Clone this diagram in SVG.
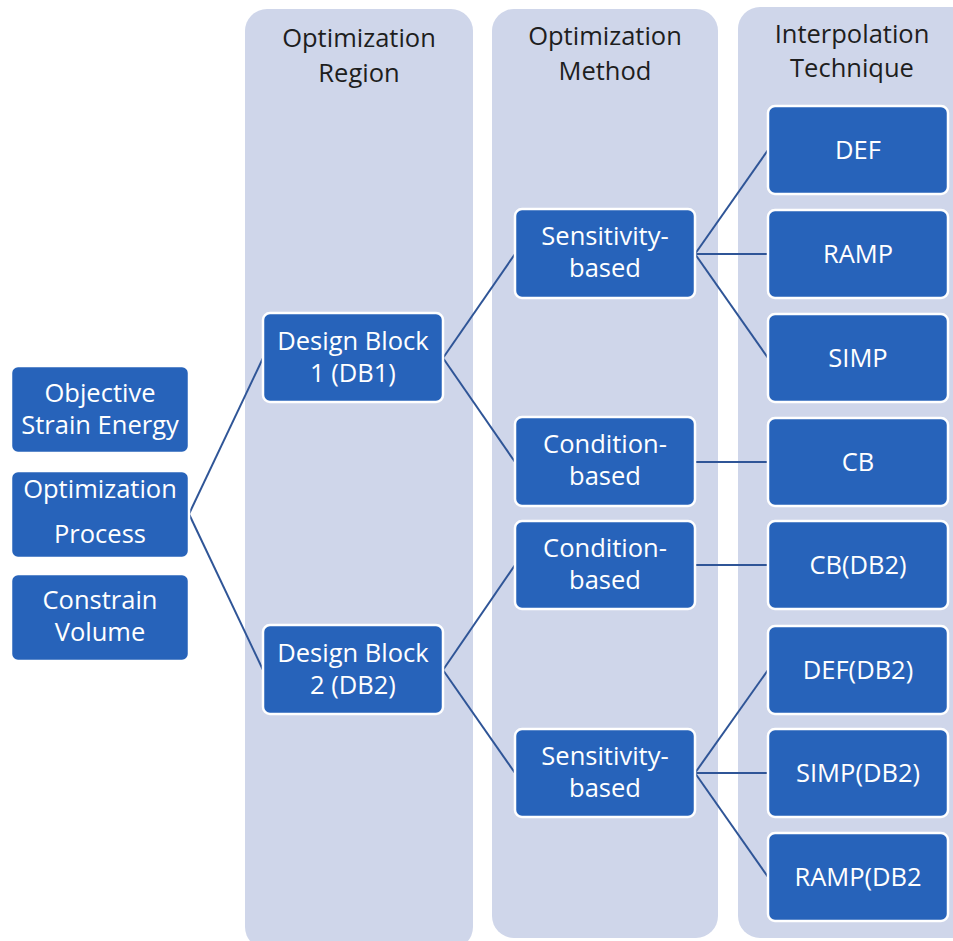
<svg xmlns="http://www.w3.org/2000/svg" width="953" height="941" viewBox="0 0 953 941">
<style>
.col{fill:#cfd6ea}
.node rect{fill:#2763ba;stroke:#ffffff;stroke-width:2.5}
.node text{fill:#ffffff;font-family:"Open Sans","Noto Sans",sans-serif;font-size:25.5px;text-anchor:middle}
.hdr{fill:#1e1e1e;font-family:"Open Sans","Noto Sans",sans-serif;font-size:25.5px;text-anchor:middle}
#connectors line{stroke:#2f5597;stroke-width:2}
</style>
<rect width="953" height="941" fill="#ffffff"/>
<g id="columns">
<rect class="col" x="245" y="9" width="228" height="940" rx="22"/>
<rect class="col" x="492" y="9" width="226" height="929" rx="22"/>
<rect class="col" x="738" y="7" width="240" height="931" rx="22"/>
<text class="hdr" x="359" y="47">Optimization</text>
<text class="hdr" x="359" y="82">Region</text>
<text class="hdr" x="605" y="45">Optimization</text>
<text class="hdr" x="605" y="80">Method</text>
<text class="hdr" x="852" y="43">Interpolation</text>
<text class="hdr" x="852" y="77">Technique</text>
</g>
<g id="connectors">
<line x1="189" y1="514" x2="263" y2="358"/>
<line x1="189" y1="514" x2="263" y2="670"/>
<line x1="443" y1="358" x2="515" y2="254"/>
<line x1="443" y1="358" x2="515" y2="462"/>
<line x1="443" y1="670" x2="515" y2="565"/>
<line x1="443" y1="670" x2="515" y2="773"/>
<line x1="695" y1="254" x2="768" y2="150"/>
<line x1="695" y1="254" x2="768" y2="254"/>
<line x1="695" y1="254" x2="768" y2="358"/>
<line x1="695" y1="462" x2="768" y2="462"/>
<line x1="695" y1="565" x2="768" y2="565"/>
<line x1="695" y1="773" x2="768" y2="670"/>
<line x1="695" y1="773" x2="768" y2="773"/>
<line x1="695" y1="773" x2="768" y2="877"/>
</g>
<g id="objective" class="node"><rect x="11" y="366" width="178" height="87" rx="7"/><text x="100" y="402">Objective</text><text x="100" y="434">Strain Energy</text></g>
<g id="process" class="node"><rect x="11" y="471" width="178" height="87" rx="7"/><text x="100" y="498">Optimization</text><text x="100" y="543">Process</text></g>
<g id="constrain" class="node"><rect x="11" y="574" width="178" height="87" rx="7"/><text x="100" y="609">Constrain</text><text x="100" y="641">Volume</text></g>
<g id="db1" class="node"><rect x="263" y="313" width="180" height="89" rx="7"/><text x="353" y="350">Design Block</text><text x="353" y="382">1 (DB1)</text></g>
<g id="db2" class="node"><rect x="263" y="625" width="180" height="89" rx="7"/><text x="353" y="662">Design Block</text><text x="353" y="694">2 (DB2)</text></g>
<g id="sens1" class="node"><rect x="515" y="209" width="180" height="89" rx="7"/><text x="605" y="245">Sensitivity-</text><text x="605" y="277">based</text></g>
<g id="cond1" class="node"><rect x="515" y="417" width="180" height="89" rx="7"/><text x="605" y="453">Condition-</text><text x="605" y="485">based</text></g>
<g id="cond2" class="node"><rect x="515" y="521" width="180" height="88" rx="7"/><text x="605" y="557">Condition-</text><text x="605" y="589">based</text></g>
<g id="sens2" class="node"><rect x="515" y="729" width="180" height="88" rx="7"/><text x="605" y="765">Sensitivity-</text><text x="605" y="797">based</text></g>
<g id="def" class="node"><rect x="768" y="106" width="180" height="88" rx="7"/><text x="858" y="159">DEF</text></g>
<g id="ramp" class="node"><rect x="768" y="210" width="180" height="88" rx="7"/><text x="858" y="263">RAMP</text></g>
<g id="simp" class="node"><rect x="768" y="314" width="180" height="88" rx="7"/><text x="858" y="367">SIMP</text></g>
<g id="cb" class="node"><rect x="768" y="418" width="180" height="88" rx="7"/><text x="858" y="471">CB</text></g>
<g id="cbdb2" class="node"><rect x="768" y="521" width="180" height="88" rx="7"/><text x="858" y="574">CB(DB2)</text></g>
<g id="defdb2" class="node"><rect x="768" y="626" width="180" height="88" rx="7"/><text x="858" y="679">DEF(DB2)</text></g>
<g id="simpdb2" class="node"><rect x="768" y="729" width="180" height="88" rx="7"/><text x="858" y="782">SIMP(DB2)</text></g>
<g id="rampdb2" class="node"><rect x="768" y="833" width="180" height="88" rx="7"/><text x="858" y="886">RAMP(DB2</text></g>
</svg>
